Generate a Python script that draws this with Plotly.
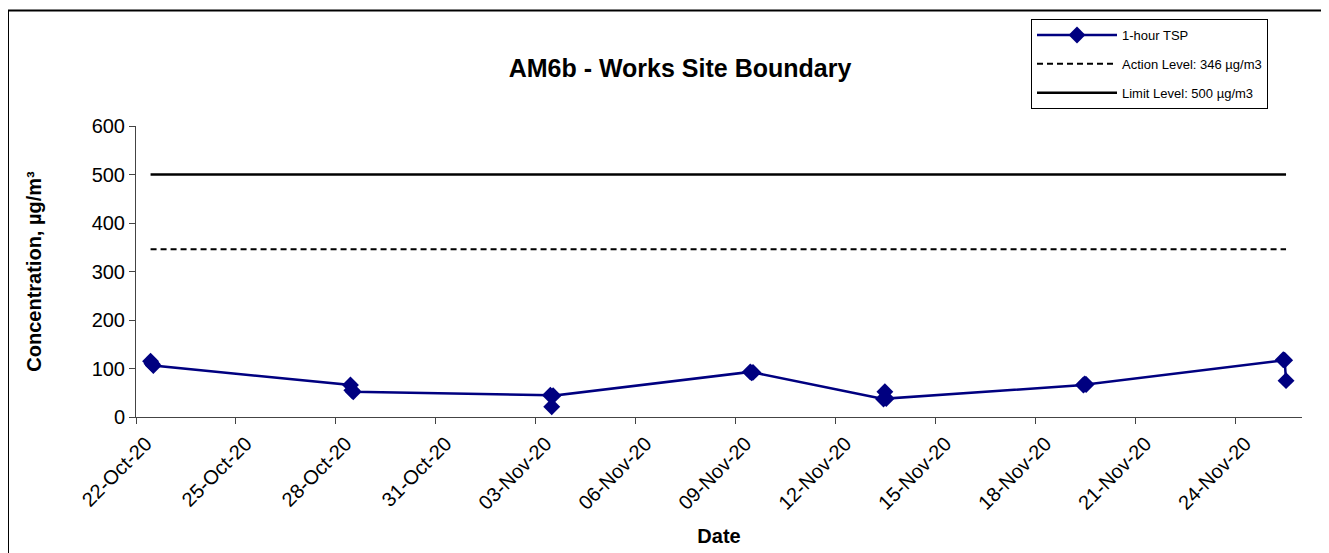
import plotly.graph_objects as go

# Data
dates = [
    "2020-10-22 10:30", "2020-10-22 11:30", "2020-10-22 12:30",
    "2020-10-28 10:30", "2020-10-28 11:30", "2020-10-28 12:30",
    "2020-11-03 10:30", "2020-11-03 11:30", "2020-11-03 12:30",
    "2020-11-09 10:30", "2020-11-09 11:30", "2020-11-09 12:30",
    "2020-11-13 10:30", "2020-11-13 11:30", "2020-11-13 12:30",
    "2020-11-19 10:30", "2020-11-19 11:30", "2020-11-19 12:30",
    "2020-11-25 10:30", "2020-11-25 11:30", "2020-11-25 12:30",
]
tsp_1hr = [115, 110, 106,
           66, 55, 52,
           45, 21, 44,
           93, 91, 92,
           37, 52, 38,
           66, 68, 67,
           118, 117, 75]
action_level = 346
limit_level = 500

series_names = ["1-hour TSP", "Action Level: 346 µg/m3", "Limit Level: 500 µg/m3"]
title_text = "AM6b - Works Site Boundary"
x_title = "Date"
y_title = "Concentration, µg/m³"

FONT = "Liberation Sans, Arial, sans-serif"

fig = go.Figure()
fig.add_trace(go.Scatter(
    x=dates, y=tsp_1hr, name=series_names[0], mode="lines+markers",
    line=dict(color="#000080", width=2.5),
    marker=dict(symbol="diamond", size=13, color="#000080"),
    legendgroup="a",
))
fig.add_trace(go.Scatter(
    x=dates, y=[action_level] * len(dates), name=series_names[1], mode="lines",
    line=dict(color="black", width=2, dash="6px,4px"),
    legendgroup="b",
))
fig.add_trace(go.Scatter(
    x=dates, y=[limit_level] * len(dates), name=series_names[2], mode="lines",
    line=dict(color="black", width=2.5),
    legendgroup="c",
))

# page has an 8px body margin; figure sits at (8, 8)
OX, OY = 8, 8
W, H = 1321, 545
L, R, T, B = 136 - OX, 27, 125 - OY, 136
pw, ph = W - L - R, H - T - B

fig.update_layout(
    width=W, height=H,
    margin=dict(l=L, r=R, t=T, b=B),
    paper_bgcolor="white", plot_bgcolor="white",
    font=dict(family=FONT, color="black"),
    title=dict(text="<b>" + title_text + "</b>", x=(680 - OX) / W, xanchor="center",
               y=1 - (68 - OY) / H, yanchor="middle", xref="container", yref="container",
               font=dict(size=25, family=FONT)),
    showlegend=True,
    legend=dict(
        x=(1031 - 136) / pw, y=(417 - 19) / ph, xanchor="left", yanchor="top",
        bordercolor="black", borderwidth=1, bgcolor="white",
        font=dict(size=13, family=FONT),
        traceorder="grouped", tracegroupgap=9, itemwidth=80,
    ),
    xaxis=dict(
        type="date", range=["2020-10-22", "2020-11-26"],
        tick0="2020-10-22", dtick=3 * 86400000, tickformat="%d-%b-%y",
        tickangle=-45, ticks="outside", ticklen=6, tickcolor="#444",
        ticklabelshift=10,
        showline=True, linecolor="#444", linewidth=1,
        showgrid=False, zeroline=False, automargin=False,
        tickfont=dict(size=20, family=FONT),
        title=dict(text="<b>" + x_title + "</b>", font=dict(size=20, family=FONT), standoff=16),
    ),
    yaxis=dict(
        range=[0, 600], dtick=100, ticks="outside", ticklen=6, tickcolor="#444",
        showline=True, linecolor="#444", linewidth=1,
        showgrid=False, zeroline=False, automargin=False,
        tickfont=dict(size=20, family=FONT),
        title=dict(text="<b>" + y_title + "</b>", font=dict(size=20, family=FONT), standoff=44),
    ),
)

# outer chart border (top and left visible)
fig.add_shape(type="rect", xref="paper", yref="paper",
              x0=(8 - 136) / pw, x1=(1329 + 40 - 136) / pw,
              y0=(417 - 600) / ph, y1=(417 - 9) / ph,
              line=dict(color="black", width=2), fillcolor="rgba(0,0,0,0)", layer="below")

fig.write_html("out.html")
